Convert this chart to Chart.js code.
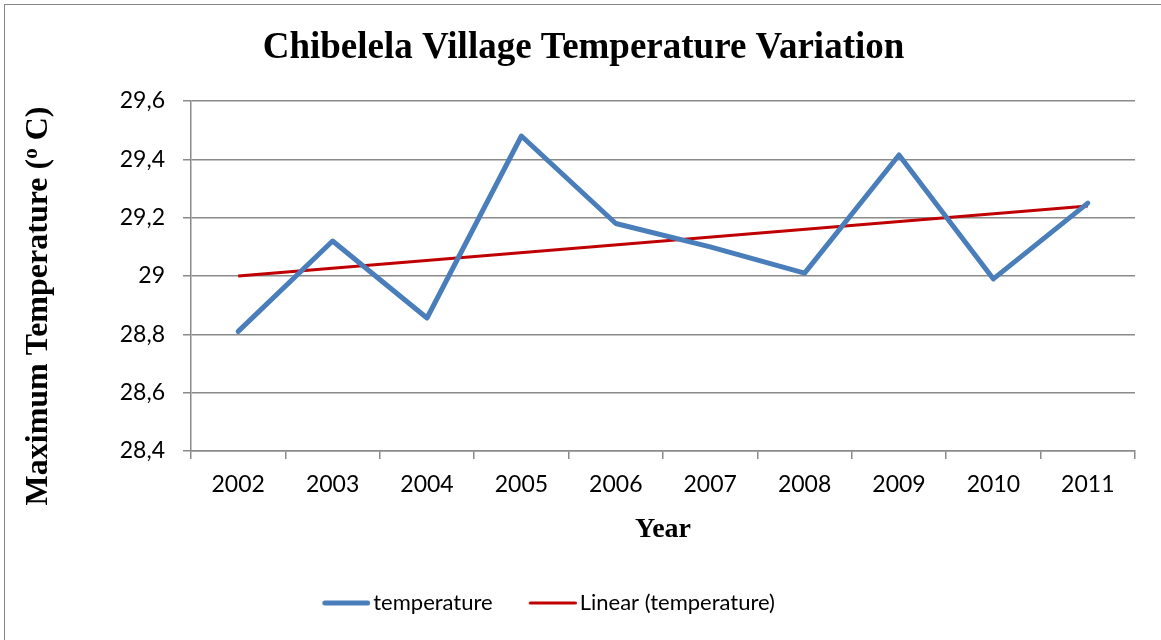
<!DOCTYPE html>
<html><head><meta charset="utf-8">
<script src="https://cdn.jsdelivr.net/npm/chart.js@4.4.0/dist/chart.umd.min.js"></script>
<style>html,body{margin:0;padding:0;background:#fff;}#wrap{width:1161px;height:640px;}</style>
</head><body><div id="wrap"><canvas id="c" width="1161" height="640"></canvas></div>
<script>
const years = ['2002','2003','2004','2005','2006','2007','2008','2009','2010','2011'];
const temperature = [28.81, 29.12, 28.856, 29.48, 29.18, 29.10, 29.01, 29.415, 28.99, 29.25];
const linearTrend = [29.00, null, null, null, null, null, null, null, null, 29.24];
const yTickLabels = ['28,4','28,6','28,8','29','29,2','29,4','29,6'];
const seriesNames = ['temperature', 'Linear (temperature)'];
const chartTitle = 'Chibelela Village Temperature Variation';
const xTitle = 'Year';
const yTitleParts = ['Maximum Temperature (', 'o', ' C)'];

const BLUE = '#4a7ebb', RED = '#c00000', GRID = '#8a8a8a';
const TICK_FONT = 'Lato';

function legendImg(color, lw) {
  const B = 66, W = B + 16, H = 10;
  const cv = document.createElement('canvas');
  cv.width = W; cv.height = H;
  const g = cv.getContext('2d');
  g.strokeStyle = color; g.lineWidth = lw; g.lineCap = 'round';
  g.beginPath(); g.moveTo(W - 48 + lw/2, H/2); g.lineTo(W - lw/2, H/2); g.stroke();
  return cv;
}
const legendImgs = [legendImg(BLUE, 5), legendImg(RED, 3)];

const framePlugin = {
  id: 'frame',
  beforeDraw(chart) {
    const ctx = chart.ctx;
    ctx.save();
    ctx.fillStyle = '#fff'; ctx.fillRect(0, 0, chart.width, chart.height);
    ctx.strokeStyle = '#868686'; ctx.lineWidth = 1;
    ctx.strokeRect(4.5, 4.5, 3000, 3000);
    ctx.restore();
  },
  afterDraw(chart) {
    const ctx = chart.ctx;
    ctx.save();
    ctx.translate(39, 306);
    ctx.rotate(-Math.PI / 2);
    ctx.fillStyle = '#000';
    ctx.textBaseline = 'middle';
    const big = 'bold 32px "Liberation Serif"', small = 'bold 21px "Liberation Serif"';
    ctx.font = big; const w0 = ctx.measureText(yTitleParts[0]).width; const w2 = ctx.measureText(yTitleParts[2]).width;
    ctx.font = small; const w1 = ctx.measureText(yTitleParts[1]).width;
    let x = -(w0 + w1 + w2) / 2;
    ctx.textAlign = 'left';
    ctx.font = big; ctx.fillText(yTitleParts[0], x, 0); x += w0;
    ctx.font = small; ctx.fillText(yTitleParts[1], x, -7); x += w1;
    ctx.font = big; ctx.fillText(yTitleParts[2], x, 0);
    ctx.restore();
  }
};

new Chart(document.getElementById('c'), {
  type: 'line',
  data: {
    labels: years,
    datasets: [
      { label: seriesNames[0], data: temperature, borderColor: BLUE, backgroundColor: BLUE, borderWidth: 5,
        pointRadius: 0, borderJoinStyle: 'round', borderCapStyle: 'round', tension: 0 },
      { label: seriesNames[1], data: linearTrend, borderColor: RED, backgroundColor: RED, borderWidth: 3,
        pointRadius: 0, spanGaps: true, borderCapStyle: 'butt', tension: 0 }
    ]
  },
  options: {
    responsive: false,
    animation: false,
    devicePixelRatio: 1,
    layout: { padding: { left: 32, right: 26, top: 0, bottom: 16 } },
    plugins: {
      tooltip: { enabled: false },
      title: {
        display: true, text: chartTitle, color: '#000',
        font: { family: 'Liberation Serif', size: 37, weight: 'bold' },
        padding: { top: 26, bottom: 101 - 26 - 44.4 }
      },
      legend: {
        position: 'bottom',
        labels: {
          color: '#000', font: { family: TICK_FONT, size: 22 },
          usePointStyle: true, pointStyleWidth: 66, padding: 10,
          generateLabels(chart) {
            const items = Chart.defaults.plugins.legend.labels.generateLabels(chart);
            items.forEach((it, i) => { it.pointStyle = legendImgs[i]; });
            items[1].text = items[1].text + '                 ';
            return items;
          }
        }
      }
    },
    scales: {
      x: {
        type: 'category',
        offset: true,
        afterFit(s) { s.height = 582 - 451; },
        grid: { display: true, drawOnChartArea: false, drawTicks: true, tickLength: 8, color: GRID, lineWidth: 1.5, offset: true },
        border: { display: true, color: GRID, width: 1.5 },
        ticks: { color: '#000', font: { family: TICK_FONT, size: 23 }, padding: 12, maxRotation: 0, autoSkip: false },
        title: { display: true, text: xTitle, color: '#000', font: { family: 'Liberation Serif', size: 28, weight: 'bold' },
          padding: { top: 0, bottom: 35 } }
      },
      y: {
        min: 28.4, max: 29.6,
        afterFit(s) { s.width = 191 - 32; },
        afterBuildTicks(s) { s.ticks = yTickLabels.map((t, i) => ({ value: 28.4 + i * 0.2 })); },
        grid: { color: GRID, lineWidth: 1.5, tickLength: 8, drawTicks: true },
        border: { display: true, color: GRID, width: 1.5 },
        ticks: { color: '#000', font: { family: TICK_FONT, size: 23 }, padding: 18,
          callback: (v, i) => yTickLabels[i] }
      }
    }
  },
  plugins: [framePlugin]
});
</script></body></html>
